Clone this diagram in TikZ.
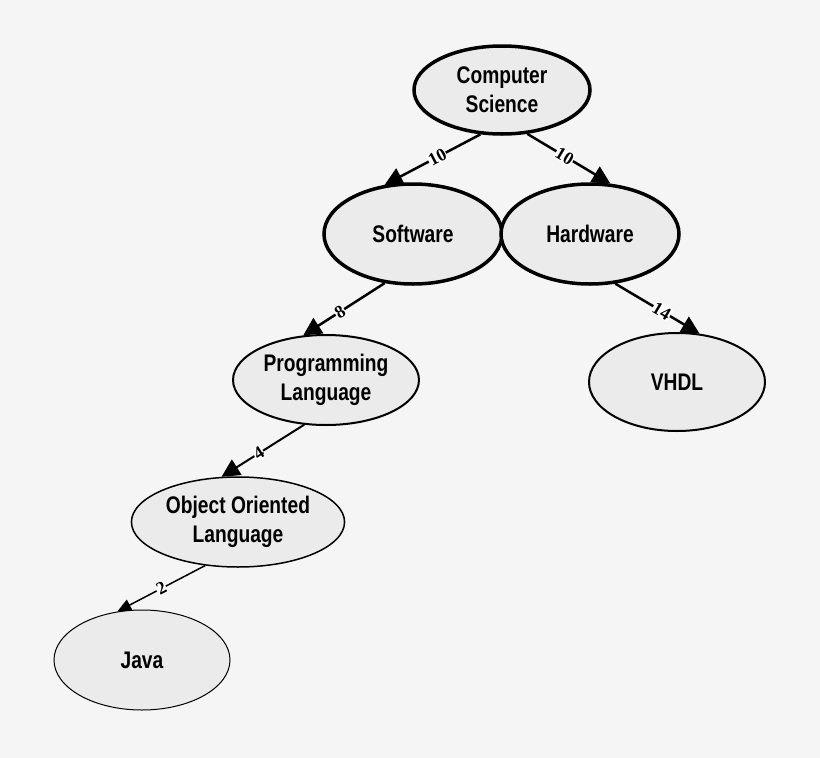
\documentclass[tikz,border=0pt]{standalone}
\usepackage{fontspec}
\setmainfont{Liberation Sans}
\newfontfamily\lblfont{Liberation Serif}
\usetikzlibrary{shapes.geometric,arrows.meta}
\begin{document}
\begin{tikzpicture}[x=1pt,y=-1pt,
  nd/.style={ellipse,draw=black,fill=black!8,minimum width=#1,align=center,font=\fontsize{24}{29}\selectfont\bfseries},
  nd/.default=176pt,
  ed/.style={-{Triangle[length=18pt,width=18pt]},line width=2.5pt},
  lb/.style={font=\lblfont\fontsize{18}{20}\selectfont\bfseries,fill=white,inner sep=0.5pt,sloped,pos=0.45}]
\fill[black!4] (0,0) rectangle (820,758);
\useasboundingbox (0,0) rectangle (820,758);
\node[nd,line width=3.5pt,minimum height=88pt] (cs) at (502,90) {\scalebox{0.8}[1]{Computer}\\\scalebox{0.8}[1]{Science}};
\node[nd=178pt,line width=3.5pt,minimum height=100pt] (sw) at (413,234) {\scalebox{0.8}[1]{Software}};
\node[nd=178pt,line width=3.5pt,minimum height=100pt] (hw) at (590,234) {\scalebox{0.8}[1]{Hardware}};
\node[nd=178pt,line width=2pt,minimum height=90pt] (pl) at (326,380) {\scalebox{0.8}[1]{Programming}\\\scalebox{0.8}[1]{Language}};
\node[nd,line width=2pt,minimum height=98pt] (vh) at (677,382) {\scalebox{0.8}[1]{VHDL}};
\node[nd,line width=1.5pt,minimum height=90pt] (oo) at (238,522) {\scalebox{0.8}[1]{Object Oriented}\\\scalebox{0.8}[1]{Language}};
\node[nd,line width=1pt,minimum height=100pt] (ja) at (142,660) {\scalebox{0.8}[1]{Java}};
\draw[ed] (cs.244) -- (sw.120) node[lb] {10};
\draw[ed] (cs.300) -- (hw.68) node[lb] {10};
\draw[ed] (sw.240) -- (pl.117) node[lb,pos=0.55] {8};
\draw[ed] (hw.297) -- (vh.65) node[lb,pos=0.55] {14};
\draw[ed,line width=2pt] (pl.244) -- (oo.110) node[lb,pos=0.55] {4};
\draw[ed,line width=1.5pt,-{Triangle[length=14pt,width=12pt]}] (oo.233) -- (ja.117) node[lb,pos=0.5] {2};
\end{tikzpicture}
\end{document}
